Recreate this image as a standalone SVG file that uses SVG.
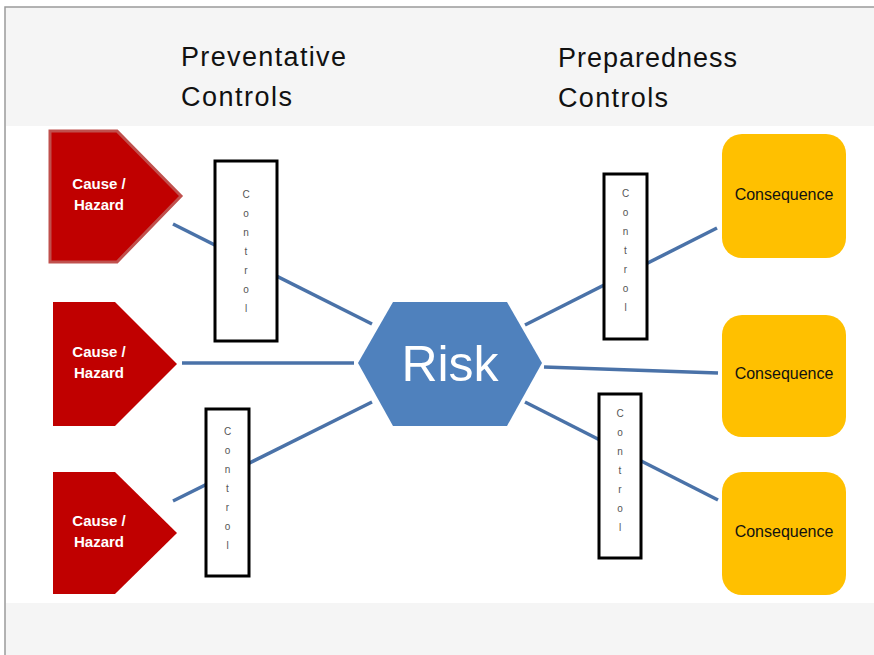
<svg xmlns="http://www.w3.org/2000/svg" width="874" height="655" viewBox="0 0 874 655">
<style>
.hdr{font-family:"Liberation Sans",Arial,sans-serif;font-size:27px;fill:#111}
.cause{fill:#c00000}
.ctext{font-family:"Liberation Sans",Arial,sans-serif;font-size:15px;font-weight:bold;fill:#fff;text-anchor:middle}
.ctrl{fill:#fff;stroke:#000;stroke-width:3}
.ctl{font-family:"Liberation Sans",Arial,sans-serif;font-size:10px;fill:#555;text-anchor:middle}
.cons{fill:#ffc000}
.constext{font-family:"Liberation Sans",Arial,sans-serif;font-size:16px;fill:#111;text-anchor:middle}
.conn line{stroke:#4a72a8;stroke-width:3.5}
</style>
<rect x="0" y="0" width="874" height="655" fill="#fff"/>
<rect x="5" y="7" width="880" height="660" fill="#f5f5f5" stroke="#9a9a9a" stroke-width="1.5"/>
<rect x="6" y="126" width="868" height="477" fill="#fff"/>
<g id="header-preventative">
<text class="hdr" x="181" y="66" textLength="165" lengthAdjust="spacing">Preventative</text>
<text class="hdr" x="181" y="106" textLength="111" lengthAdjust="spacing">Controls</text>
</g>
<g id="header-preparedness">
<text class="hdr" x="558" y="67" textLength="179" lengthAdjust="spacing">Preparedness</text>
<text class="hdr" x="558" y="107" textLength="110" lengthAdjust="spacing">Controls</text>
</g>
<g id="connectors" class="conn">
<line x1="173" y1="224" x2="372" y2="324"/>
<line x1="182" y1="363" x2="354" y2="363"/>
<line x1="173" y1="501" x2="372" y2="402"/>
<line x1="525" y1="325" x2="717" y2="228"/>
<line x1="544" y1="367" x2="718" y2="373"/>
<line x1="525" y1="402" x2="718" y2="500"/>
</g>
<g id="cause1">
<polygon class="cause" points="50,131 117,131 181,196 117,262 50,262" stroke="#c0504d" stroke-width="3"/>
<text class="ctext" x="99" y="189">Cause /</text>
<text class="ctext" x="99" y="210">Hazard</text>
</g>
<g id="cause2">
<polygon class="cause" points="53,302 115,302 177,364 115,426 53,426"/>
<text class="ctext" x="99" y="357">Cause /</text>
<text class="ctext" x="99" y="378">Hazard</text>
</g>
<g id="cause3">
<polygon class="cause" points="53,472 115,472 177,533 115,594 53,594"/>
<text class="ctext" x="99" y="526">Cause /</text>
<text class="ctext" x="99" y="547">Hazard</text>
</g>
<g id="control1">
<rect class="ctrl" x="215" y="161" width="62" height="180"/>
<text class="ctl" x="246" y="198">C</text><text class="ctl" x="246" y="217">o</text><text class="ctl" x="246" y="236">n</text><text class="ctl" x="246" y="255">t</text><text class="ctl" x="246" y="274">r</text><text class="ctl" x="246" y="293">o</text><text class="ctl" x="246" y="312">l</text>
</g>
<g id="control2">
<rect class="ctrl" x="206" y="409" width="43" height="167"/>
<text class="ctl" x="227.5" y="435">C</text><text class="ctl" x="227.5" y="454">o</text><text class="ctl" x="227.5" y="473">n</text><text class="ctl" x="227.5" y="492">t</text><text class="ctl" x="227.5" y="511">r</text><text class="ctl" x="227.5" y="530">o</text><text class="ctl" x="227.5" y="549">l</text>
</g>
<g id="control3">
<rect class="ctrl" x="604" y="174" width="43" height="165"/>
<text class="ctl" x="625.5" y="197">C</text><text class="ctl" x="625.5" y="216">o</text><text class="ctl" x="625.5" y="235">n</text><text class="ctl" x="625.5" y="254">t</text><text class="ctl" x="625.5" y="273">r</text><text class="ctl" x="625.5" y="292">o</text><text class="ctl" x="625.5" y="311">l</text>
</g>
<g id="control4">
<rect class="ctrl" x="599" y="394" width="42" height="164"/>
<text class="ctl" x="620" y="417">C</text><text class="ctl" x="620" y="436">o</text><text class="ctl" x="620" y="455">n</text><text class="ctl" x="620" y="474">t</text><text class="ctl" x="620" y="493">r</text><text class="ctl" x="620" y="512">o</text><text class="ctl" x="620" y="531">l</text>
</g>
<g id="risk">
<polygon points="358,363 393,302 507,302 542,363 507,426 393,426" fill="#4f81bd"/>
<text x="450" y="381" font-family="'Liberation Sans',Arial,sans-serif" font-size="50" fill="#fff" text-anchor="middle">Risk</text>
</g>
<g id="consequence1">
<rect class="cons" x="722" y="134" width="124" height="124" rx="20"/>
<text class="constext" x="784" y="200">Consequence</text>
</g>
<g id="consequence2">
<rect class="cons" x="722" y="315" width="124" height="122" rx="20"/>
<text class="constext" x="784" y="379">Consequence</text>
</g>
<g id="consequence3">
<rect class="cons" x="722" y="472" width="124" height="123" rx="20"/>
<text class="constext" x="784" y="537">Consequence</text>
</g>
</svg>
